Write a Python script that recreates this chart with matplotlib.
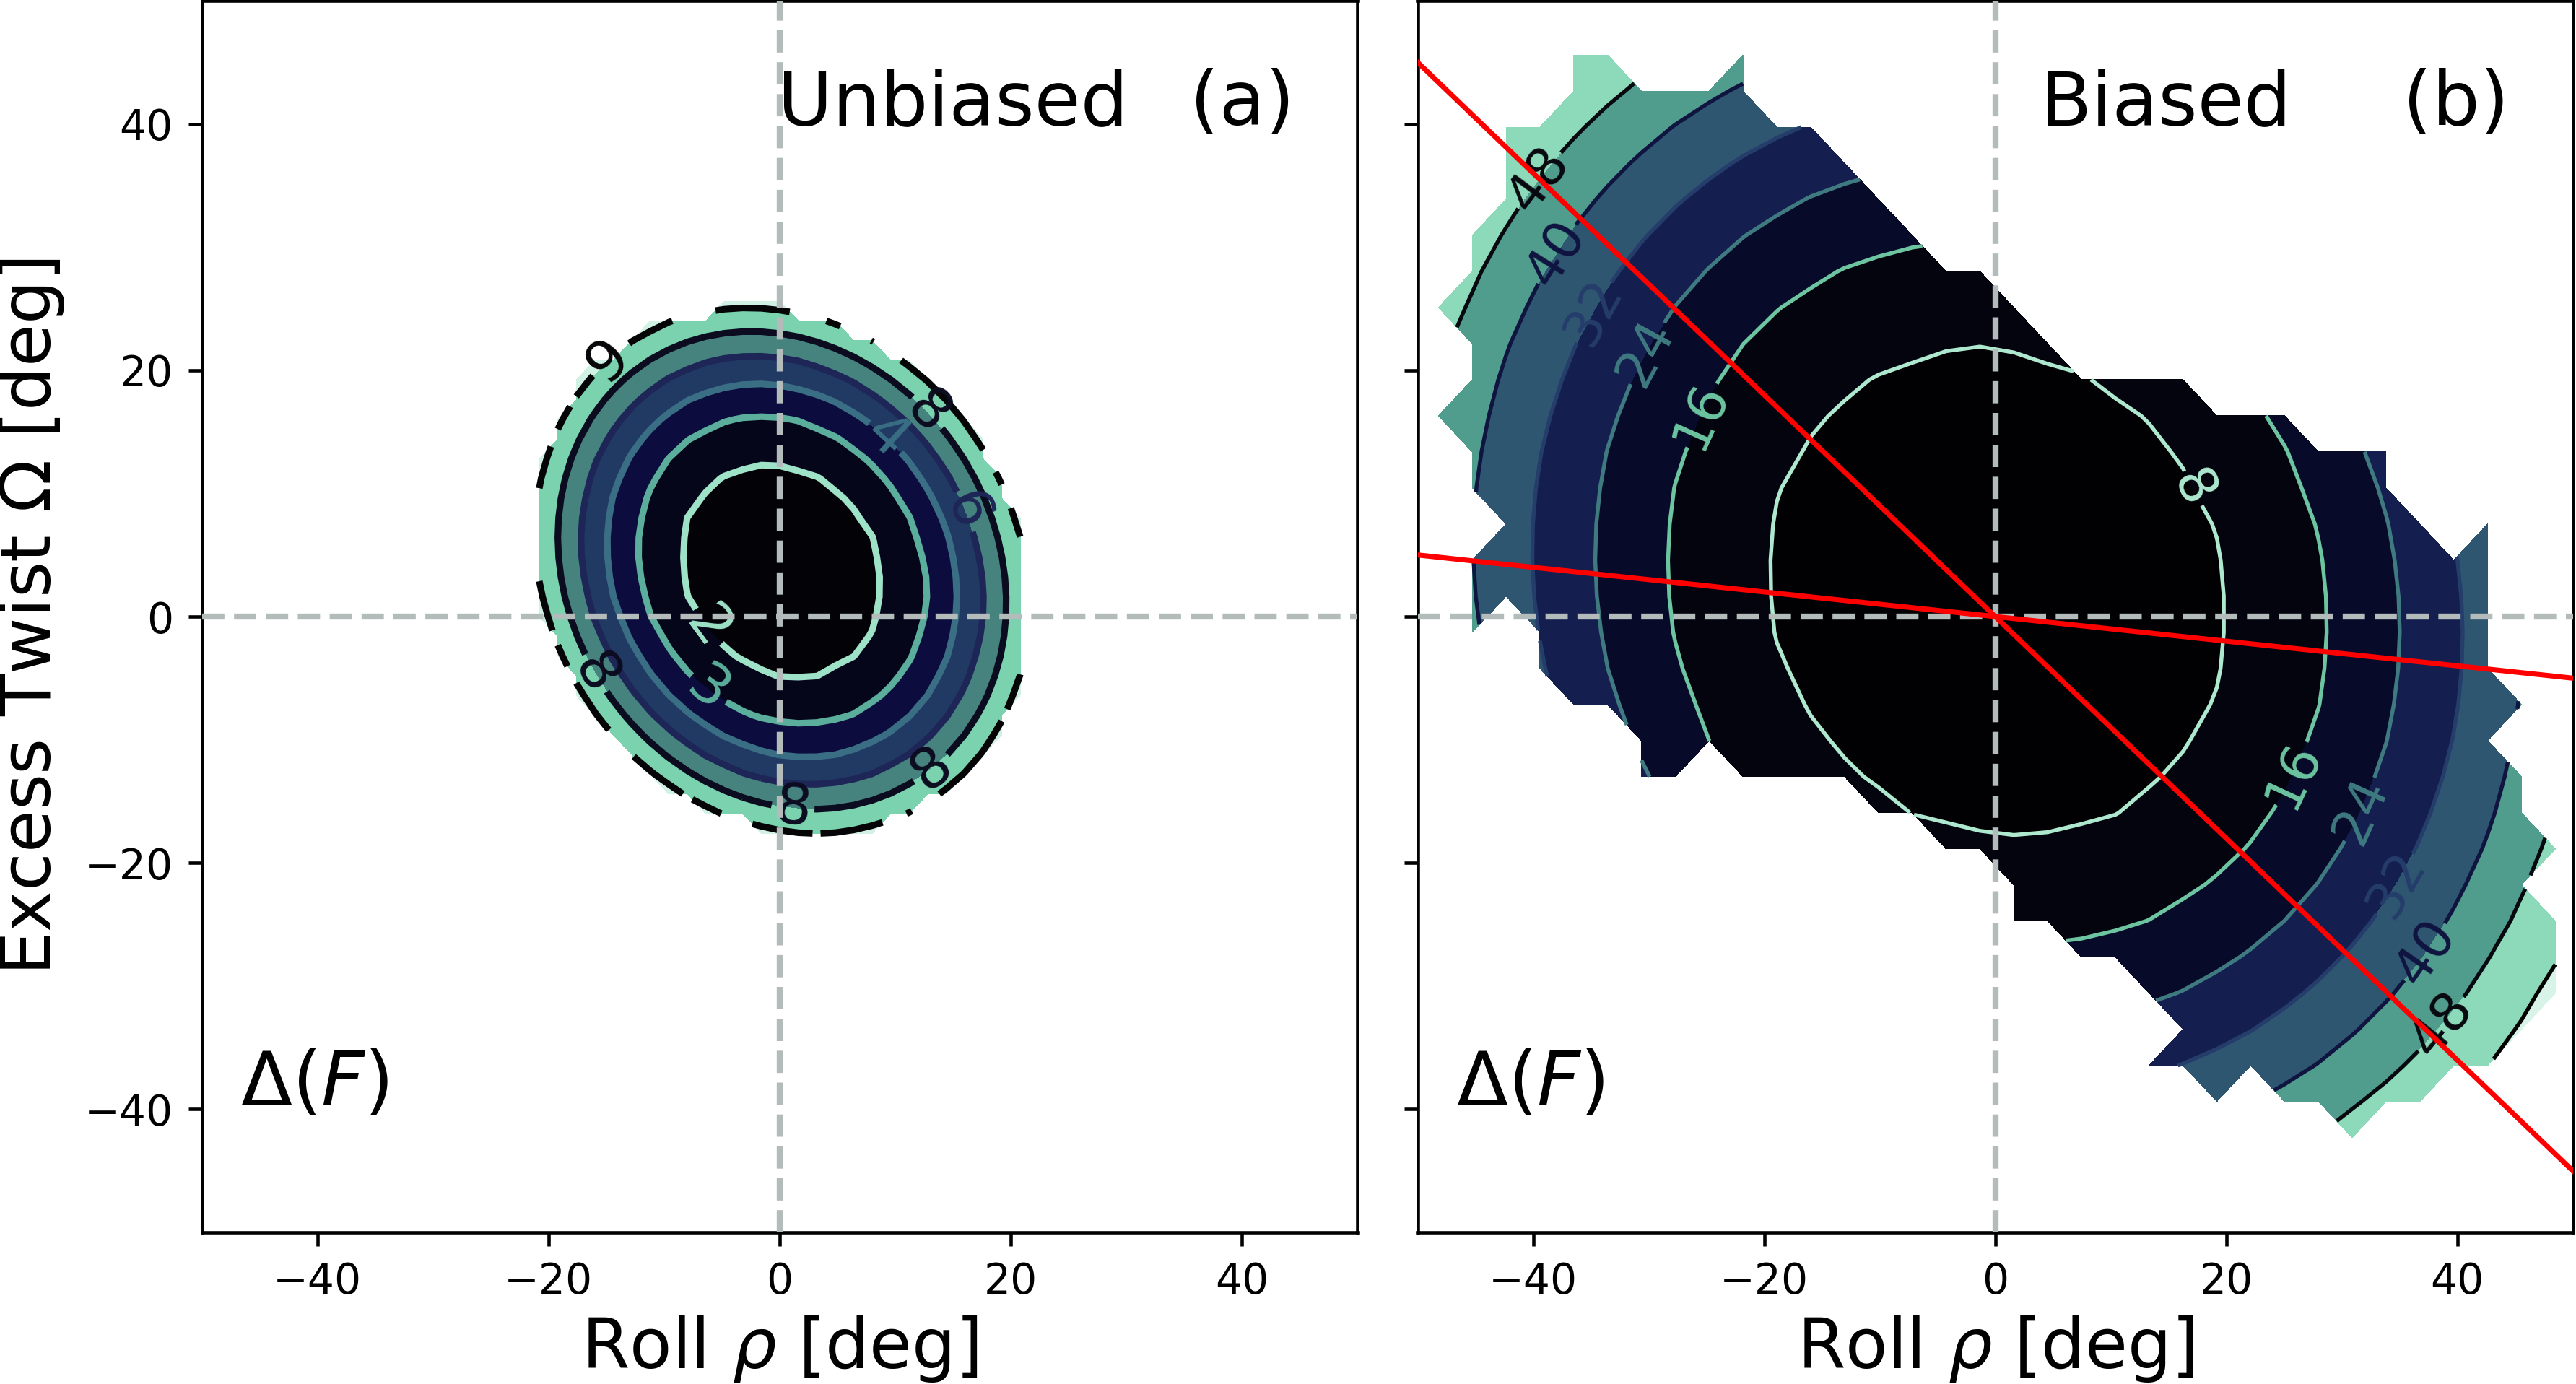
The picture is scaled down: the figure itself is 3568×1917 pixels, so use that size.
import numpy as np
import matplotlib
matplotlib.use("Agg")
import matplotlib.pyplot as plt
from matplotlib.path import Path

# ---------------- data ----------------
# Panel (a) - unbiased free energy: level values and the radius (along the long,
# 135 deg axis of the elliptical wells) at which each level is reached
levels_a = [0, 1.5, 3, 4.5, 6, 7.5, 9, 10.5]
radius_a = [0, 9.4, 13.4, 16.2, 18.6, 20.7, 22.8, 24.6]
center_a = (0.2, 3.75)
aspect_a = 1.15          # long / short axis ratio
edge_a = 23.6            # extent of sampled region (long-axis units)
line_levels_a = [1.5, 3, 4.5, 6, 7.5, 9]
label_pos_a = [(-6.3, -0.9), (-5.9, -5.6), (9.3, 14.7), (16.0, 8.5),
               (13.4, 17.1), (-16.3, -4.8), (1.2, -15.1), (12.6, -11.8),
               (-15.0, 22.1)]

# Panel (b) - biased free energy
levels_b = [0, 8, 16, 24, 32, 40, 48, 56, 64]
radius_b = [0, 21.0, 29.9, 36.4, 42.0, 47.3, 52.0, 57.3, 61.0]
center_b = (0.2, 1.9)
aspect_b = 1.09
line_levels_b = [8, 16, 24, 32, 40, 48, 56]
label_pos_b = [(17.75, 10.7), (-26.5, 16.8), (25.5, -12.7), (-31.2, 21.9),
               (31.4, -15.6), (-35.8, 25.2), (34.5, -21.65), (-38.6, 29.8),
               (36.6, -26.9), (-39.6, 35.5), (37.5, -32.3)]
# outline of the sampled region in panel (b)
boundary_b_x = [-36.5, -33.6, -30.6, -24.8, -21.8, -21.8, -18.9, -16.0, -4.3, -1.3,
                7.5, 16.3, 19.2, 25.1, 28.0, 33.8, 33.8, 39.7, 42.6, 42.6,
                45.6, 42.6, 45.6, 45.6, 48.5, 45.6, 48.5, 48.5, 45.6, 42.6,
                39.7, 36.8, 33.8, 30.9, 28.0, 25.1, 22.1, 19.2, 16.3, 13.3,
                16.3, 13.3, 10.4, 7.5, 4.5, 1.6, 1.6, -1.3, -4.3, -7.2,
                -10.1, -13.0, -21.8, -24.8, -27.7, -30.6, -30.6, -33.6, -36.5, -39.4,
                -39.4, -42.3, -45.3, -45.3, -42.3, -45.3, -45.3, -48.2, -45.3, -45.3,
                -48.2, -45.3, -45.3, -42.3, -42.3, -39.4, -36.5]
boundary_b_y = [45.6, 45.6, 42.7, 42.7, 45.6, 42.7, 39.7, 39.7, 28.0, 28.0,
                19.2, 19.2, 16.3, 16.3, 13.4, 13.4, 10.4, 4.6, 7.5, -4.2,
                -7.1, -10.1, -13.0, -15.9, -18.9, -21.8, -24.7, -30.6, -33.5, -36.4,
                -36.4, -39.4, -39.4, -42.3, -39.4, -39.4, -36.4, -39.4, -36.4, -36.4,
                -33.5, -30.6, -27.7, -27.7, -24.7, -24.7, -21.8, -18.9, -18.9, -15.9,
                -15.9, -13.0, -13.0, -10.1, -13.0, -13.0, -10.1, -7.1, -7.1, -4.2,
                -1.3, 1.6, -1.3, 4.6, 7.5, 10.4, 13.4, 16.3, 19.2, 22.2,
                25.1, 28.0, 31.0, 33.9, 39.7, 39.7, 42.7]

# red reference lines in panel (b)
red_x = [-50, 50]
red1_y = [45, -45]
red2_y = [5, -5]

ticks = [-40, -20, 0, 20, 40]

# ---------------- styles ----------------
fill_a = ['#030307', '#06061a', '#0c0d3e', '#213a64', '#46837f', '#7ad2ae', '#d0f1e3']
line_a = ['#9ee2c8', '#5aae9b', '#3a6e84', '#1e2658', '#0c0c20', '#050508']
fill_b = ['#010104', '#04040f', '#080a2a', '#141f50', '#2e5671', '#519d8d', '#8cdab9', '#d8f3e7']
line_b = ['#ade8cf', '#6cc4a0', '#3e7a80', '#253d6b', '#0f1440', '#08080f', '#000000']
GRAY = '#b3bbbb'


def field(X, Y, center, aspect, radii, levels):
    dx = X - center[0]
    dy = Y - center[1]
    u = (-dx + dy) / np.sqrt(2)
    v = (dx + dy) / np.sqrt(2)
    r = np.hypot(u, aspect * v)
    return np.interp(r, radii, levels), r


def polygon_mask(X, Y, px, py, tol):
    pts = np.column_stack([X.ravel(), Y.ravel()])
    poly = np.column_stack([px, py])
    inside = Path(poly).contains_points(pts)
    A = poly
    B = np.roll(poly, -1, axis=0)
    AB = B - A
    L2 = (AB ** 2).sum(1)
    L2[L2 == 0] = 1e-9
    AP = pts[:, None, :] - A[None, :, :]
    t = np.clip((AP * AB[None]).sum(2) / L2[None], 0, 1)
    proj = A[None] + t[..., None] * AB[None]
    d = np.sqrt(((pts[:, None, :] - proj) ** 2).sum(2)).min(1)
    return (inside | (d < tol)).reshape(X.shape)


fig = plt.figure(figsize=(3568 / 300, 1917 / 300), dpi=300)
bottom = (1917 - 1707) / 1917
height = 1706 / 1917
ax1 = fig.add_axes([279.5 / 3568, bottom, 1601 / 3568, height])
ax2 = fig.add_axes([1963.5 / 3568, bottom, 1600 / 3568, height])

# ---- panel (a)
ga = np.arange(-49.6, 50.1, 1.6)
Xa, Ya = np.meshgrid(ga, ga)
Fa, Ra = field(Xa, Ya, center_a, aspect_a, radius_a, levels_a)
Fa = np.ma.masked_where(Ra > edge_a, Fa)
ax1.contourf(Xa, Ya, Fa, levels=levels_a, colors=fill_a, zorder=1)
csa = ax1.contour(Xa, Ya, Fa, levels=line_levels_a, colors=line_a, linewidths=2.2, zorder=2)
ax1.clabel(csa, fmt='%1.0f', fontsize=19, manual=label_pos_a, inline=True)

# ---- panel (b)
gxb = -48.2 + 2.93 * np.arange(34)
gyb = np.sort(45.6 - 2.93 * np.arange(33))
Xb, Yb = np.meshgrid(gxb, gyb)
Fb, Rb = field(Xb, Yb, center_b, aspect_b, radius_b, levels_b)
mb = polygon_mask(Xb, Yb, boundary_b_x, boundary_b_y, 1.0)
Fb = np.ma.masked_where(~mb, Fb)
ax2.contourf(Xb, Yb, Fb, levels=levels_b, colors=fill_b, zorder=1)
csb = ax2.contour(Xb, Yb, Fb, levels=line_levels_b, colors=line_b, linewidths=1.3, zorder=2)
ax2.clabel(csb, fmt='%1.0f', fontsize=17.5, manual=label_pos_b, inline=True)

ax2.plot(red_x, red1_y, color='#ff0000', lw=1.7, zorder=5)
ax2.plot(red_x, red2_y, color='#ff0000', lw=1.7, zorder=5)

for ax in (ax1, ax2):
    ax.axhline(0, color=GRAY, ls='--', lw=2, zorder=4)
    ax.axvline(0, color=GRAY, ls='--', lw=2, zorder=4)
    ax.set_xlim(-50, 50)
    ax.set_ylim(-50, 50)
    ax.set_xticks(ticks)
    ax.set_yticks(ticks)
    ax.tick_params(direction='out', length=4.5, width=1.1, labelsize=14, pad=5,
                   top=False, right=False)
    for s in ax.spines.values():
        s.set_linewidth(1.1)
    ax.set_xlabel(r'Roll $\rho$ [deg]', fontsize=23, labelpad=4)
    ax.text(-46.65, -39.7, r'$\Delta(F)$', fontsize=25, va='baseline', ha='left')

ax2.tick_params(labelleft=False)
ax1.set_ylabel(r'Excess Twist $\Omega$ [deg]', fontsize=23, labelpad=6)

ax1.text(-0.2, 39.9, 'Unbiased', fontsize=25, va='baseline', ha='left')
ax1.text(35.45, 39.9, '(a)', fontsize=25, va='baseline', ha='left')
ax2.text(3.86, 39.9, 'Biased', fontsize=25, va='baseline', ha='left')
ax2.text(35.3, 39.9, '(b)', fontsize=25, va='baseline', ha='left')

fig.savefig('out.png', dpi=300)
